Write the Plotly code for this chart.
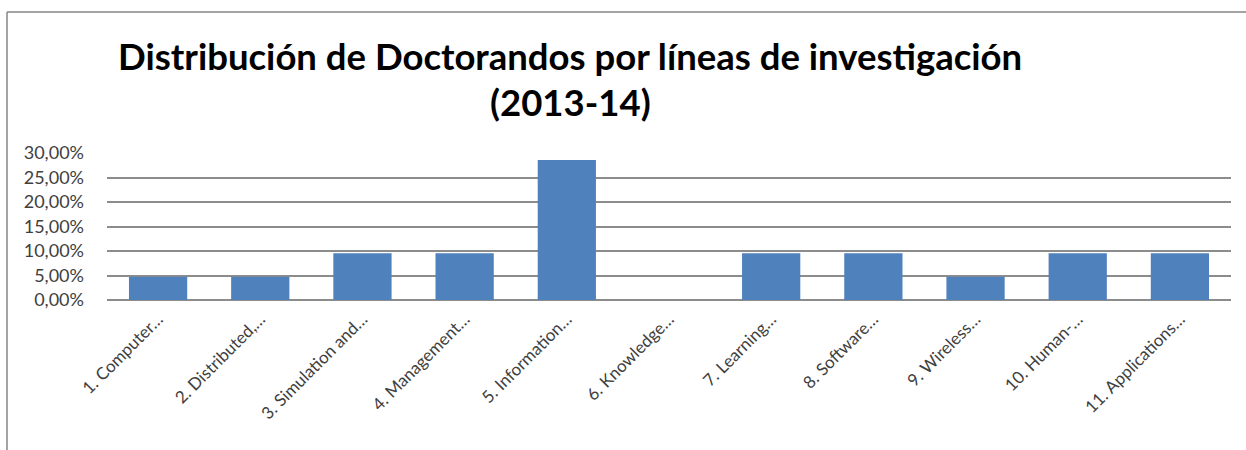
import plotly.graph_objects as go

categories = ["1. Computer…", "2. Distributed,…", "3. Simulation and…", "4. Management…",
              "5. Information…", "6. Knowledge…", "7. Learning…", "8. Software…",
              "9. Wireless…", "10. Human-…", "11. Applications…"]
values = [0.0476, 0.0476, 0.0952, 0.0952, 0.2857, 0.0, 0.0952, 0.0952, 0.0476, 0.0952, 0.0952]
y_ticks = [0, 0.05, 0.10, 0.15, 0.20, 0.25, 0.30]

W, H = 1246, 450
ml, mr, mt, mb = 107, 15, 153, 150
pw, ph = W - ml - mr, H - mt - mb

def px_x(x):
    return (x - ml) / pw

def px_y(y):
    return (H - mb - y) / ph

FONT = "Lato, 'Open Sans', sans-serif"

fig = go.Figure(go.Bar(x=categories, y=values, marker=dict(color="#4F81BD", line=dict(width=0)),
                       width=0.57))

fig.update_layout(
    width=W, height=H,
    margin=dict(l=ml, r=mr, t=mt, b=mb),
    paper_bgcolor="white", plot_bgcolor="white",
    separators=",.",
    font=dict(family=FONT, color="#404040", size=17),
    showlegend=False,
    xaxis=dict(tickangle=-45, showgrid=False, showline=False, ticks="",
               tickfont=dict(size=17, color="#404040"), range=[-0.5, 10.5],
               ticklabelstandoff=5),
    yaxis=dict(range=[0, 0.30], tickvals=y_ticks, tickformat=".2%",
               showgrid=True, gridcolor="#8C8C8C", gridwidth=2,
               zeroline=True, zerolinecolor="#8C8C8C", zerolinewidth=2,
               showline=False, ticks="", ticklabelstandoff=22,
               tickfont=dict(size=18, color="#404040")),
    annotations=[
        dict(text="<b>Distribución de Doctorandos por líneas de investigación</b>",
             x=px_x(570), y=px_y(56), xref="paper", yref="paper", showarrow=False,
             xanchor="center", yanchor="middle",
             font=dict(size=36.5, color="#000000", family=FONT)),
        dict(text="<b>(2013-14)</b>",
             x=px_x(570), y=px_y(102), xref="paper", yref="paper", showarrow=False,
             xanchor="center", yanchor="middle",
             font=dict(size=36.5, color="#000000", family=FONT)),
    ],
    shapes=[
        dict(type="line", xref="paper", yref="paper", x0=px_x(7), x1=px_x(1246),
             y0=px_y(12), y1=px_y(12), line=dict(color="#868686", width=1.5)),
        dict(type="line", xref="paper", yref="paper", x0=px_x(7), x1=px_x(7),
             y0=px_y(12), y1=px_y(452), line=dict(color="#868686", width=1.5)),
    ],
)

fig.write_html("out.html", config={"displayModeBar": False},
               post_script="document.body.style.margin='0px';")
